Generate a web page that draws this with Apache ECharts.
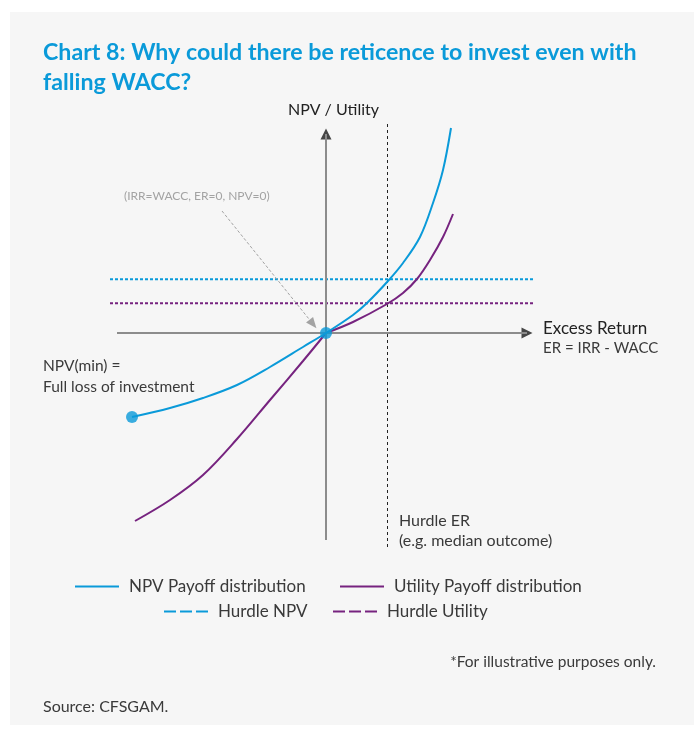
<!DOCTYPE html>
<html>
<head>
<meta charset="utf-8">
<script src="https://cdn.jsdelivr.net/npm/echarts@6/dist/echarts.min.js"></script>
<style>
html,body{margin:0;padding:0;background:#ffffff;}
#chart{width:694px;height:735px;}
</style>
</head>
<body>
<div id="chart"></div>
<script>
// ---- Data (arbitrary units, origin = ER 0 / NPV 0) ----
const npvPayoff = [[-19.4,-8.4],[-15.6,-7.5],[-12.3,-6.5],[-8.9,-5.2],[-5.6,-3.4],[-2.3,-1.4],[0,0],[2.7,1.8],[4.1,3.0],[6.2,5.2],[7.7,7.0],[9.4,9.6],[10.7,13.0],[11.7,16.3],[12.5,20.5]];
const utilityLeft = [[-19.1,-18.8],[-15.6,-16.7],[-12.3,-14.2],[-8.9,-10.6],[-5.6,-6.7],[-2.3,-2.8],[0,0]];
const utilityRight = [[0,0],[2.7,1.1],[6.1,2.9],[7.7,4.0],[9.1,5.4],[10.4,7.3],[11.7,9.6],[12.7,11.9]];
const hurdleNPV = 5.37;
const hurdleUtility = 2.97;
const hurdleER = 6.15;
const keyPoints = [[0,0],[-19.4,-8.4]];
const hurdleSpan = [-21.6, 20.7];
const xAxisSpan = [-20.9, 20.1];
const yAxisSpan = [-20.7, 19.9];
const hurdleERSpan = [-21.4, 21.0];
const annotationArrow = [[-10.4,12.2],[-1.3,0.9]];

const BLUE = '#0a9ad9';
const PURPLE = '#76237f';
const TEXT = '#3a3a3a';
const FONT = 'Lato, "Open Sans", sans-serif';

const chart = echarts.init(document.getElementById('chart'), null, {renderer:'canvas'});

function legendItem(name, left, top, dashed){
  return {
    data:[name], left:left, top:top, padding:0, itemWidth:44, itemHeight:14,
    selectedMode:false,
    itemStyle:{opacity:0},
    textStyle:{color:TEXT, fontSize:17, fontFamily:FONT, padding:[0,0,0,5]},
    lineStyle: dashed ? {type:[12,4], width:2} : {width:2}
  };
}

const option = {
  backgroundColor:'#ffffff',
  animation:false,
  title:{
    text:'Chart 8: Why could there be reticence to invest even with\nfalling WACC?',
    left:43, top:38, padding:0,
    textStyle:{color:BLUE, fontSize:23.2, fontWeight:'bold', fontFamily:FONT, lineHeight:30}
  },
  grid:{left:106, right:158, top:123, bottom:182},
  xAxis:{type:'value', min:-22, max:21, show:false},
  yAxis:{type:'value', min:-22, max:21, show:false},
  legend:[
    legendItem('NPV Payoff distribution', 74, 578, false),
    legendItem('Utility Payoff distribution', 339, 578, false),
    legendItem('Hurdle NPV', 163, 603, true),
    legendItem('Hurdle Utility', 332, 603, true)
  ],
  series:[
    { // axes
      name:'axes', type:'line', data:[], silent:true,
      markLine:{
        silent:true, symbol:['none','none'], animation:false,
        label:{show:false},
        lineStyle:{color:'#8c8c8c', width:2, type:'solid'},
        data:[
          [{coord:[xAxisSpan[0],0]},{coord:[xAxisSpan[1],0]}],
          [{coord:[0,yAxisSpan[0]]},{coord:[0,yAxisSpan[1]]}]
        ]
      }
    },
    { // arrow heads of axes
      name:'arrowheads', type:'scatter', silent:true,
      data:[
        {value:[xAxisSpan[1],0], symbolRotate:-90},
        {value:[0,yAxisSpan[1]], symbolRotate:0}
      ],
      symbol:'triangle', symbolSize:[11,11],
      itemStyle:{color:'#1a1a1a'}, z:3
    },
    {
      name:'Hurdle ER', type:'line', silent:true, symbol:'none',
      data:[[hurdleER,hurdleERSpan[0]],[hurdleER,hurdleERSpan[1]]],
      lineStyle:{color:'#222', width:1, type:[3,3]}
    },
    {
      name:'Hurdle NPV', type:'line', silent:true, symbol:'none',
      data:[[hurdleSpan[0],hurdleNPV],[hurdleSpan[1],hurdleNPV]],
      lineStyle:{color:BLUE, width:2, type:[3,2]}, itemStyle:{color:BLUE}
    },
    {
      name:'Hurdle Utility', type:'line', silent:true, symbol:'none',
      data:[[hurdleSpan[0],hurdleUtility],[hurdleSpan[1],hurdleUtility]],
      lineStyle:{color:PURPLE, width:2, type:[3,2]}, itemStyle:{color:PURPLE}
    },
    {
      name:'annotation', type:'line', data:[], silent:true,
      markLine:{
        silent:true, symbol:['none','triangle'], symbolSize:[9,11], animation:false,
        label:{show:false},
        lineStyle:{color:'#a3a3a3', width:1, type:[3,2]},
        data:[[{coord:annotationArrow[0]},{coord:annotationArrow[1]}]]
      }
    },
    {
      name:'Utility Payoff distribution', type:'line', silent:true, symbol:'none', smooth:0.35,
      data:utilityLeft, lineStyle:{color:PURPLE, width:2}, itemStyle:{color:PURPLE}, z:4
    },
    {
      name:'Utility Payoff distribution', type:'line', silent:true, symbol:'none', smooth:0.35,
      data:utilityRight, lineStyle:{color:PURPLE, width:2}, itemStyle:{color:PURPLE}, z:4
    },
    {
      name:'NPV Payoff distribution', type:'line', silent:true, symbol:'none', smooth:0.35,
      data:npvPayoff, lineStyle:{color:BLUE, width:2}, itemStyle:{color:BLUE}, z:5
    },
    {
      name:'key points', type:'scatter', silent:true, symbol:'circle', symbolSize:12,
      data:keyPoints, itemStyle:{color:BLUE}, z:6
    }
  ],
  graphic:[
    {type:'rect', z:-10, silent:true, shape:{x:10, y:12, width:684, height:713}, style:{fill:'#f6f6f6'}},
    {type:'text', left:288, top:102, style:{text:'NPV / Utility', fill:'#222', fontSize:16, fontFamily:FONT}},
    {type:'text', left:124, top:190, style:{text:'(IRR=WACC, ER=0, NPV=0)', fill:'#a3a3a3', fontSize:12, fontFamily:FONT}},
    {type:'text', left:543, top:320, style:{text:'Excess Return', fill:'#222', fontSize:17, fontFamily:FONT}},
    {type:'text', left:543, top:341, style:{text:'ER = IRR - WACC', fill:TEXT, fontSize:15, fontFamily:FONT}},
    {type:'text', left:43, top:358, style:{text:'NPV(min) =', fill:TEXT, fontSize:15.5, fontFamily:FONT}},
    {type:'text', left:43, top:379, style:{text:'Full loss of investment', fill:TEXT, fontSize:15.5, fontFamily:FONT}},
    {type:'text', left:399, top:513, style:{text:'Hurdle ER', fill:TEXT, fontSize:16, fontFamily:FONT}},
    {type:'text', left:399, top:533, style:{text:'(e.g. median outcome)', fill:TEXT, fontSize:16, fontFamily:FONT}},
    {type:'text', right:38, top:654, style:{text:'*For illustrative purposes only.', fill:TEXT, fontSize:15.5, fontFamily:FONT}},
    {type:'text', left:43, top:699, style:{text:'Source: CFSGAM.', fill:TEXT, fontSize:16, fontFamily:FONT}}
  ]
};
chart.setOption(option);
</script>
</body>
</html>
